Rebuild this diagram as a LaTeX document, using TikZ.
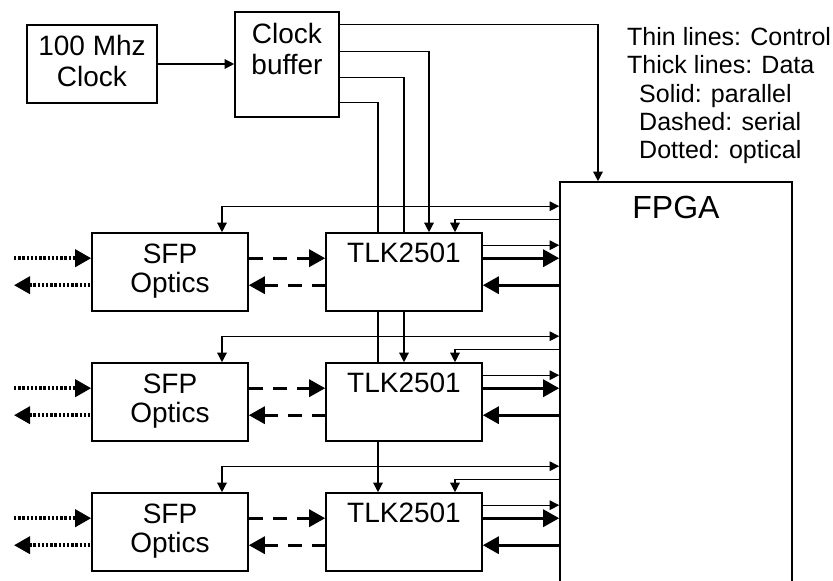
\documentclass[tikz,border=0pt]{standalone}
\usepackage{fontspec}
\setmainfont{Liberation Sans}
\usetikzlibrary{arrows.meta,backgrounds,calc}
\begin{document}
\begin{tikzpicture}[x=1pt,y=-1pt,
  box/.style={draw, line width=1.6pt, fill=white, inner sep=0pt},
  lbl/.style={font=\fontsize{28}{30}\selectfont, inner sep=0pt, anchor=base},
  leg/.style={font=\fontsize{25}{28}\selectfont, inner sep=0pt, anchor=base west},
  ctl/.style={line width=1.3pt, >={Triangle[length=9.5pt,width=9.5pt]}},
  data/.style={line width=3.2pt, >={Triangle[length=16pt,width=17pt]}},
  serial/.style={data, dash pattern=on 14pt off 10pt},
  optical/.style={data, line width=3.6pt, dash pattern=on 2.4pt off 1.8pt}]
\useasboundingbox (0,0) rectangle (833,581);
% top blocks
\node[box, minimum width=130pt, minimum height=78pt] (clk) at (92,64) {};
\node[lbl] (clkA) at (92,55) {100 Mhz};
\node[lbl] (clkB) at (92,86) {Clock};
\node[box, minimum width=104pt, minimum height=105pt] (buf) at (287,64.5) {};
\node[lbl] (bufA) at (287,43) {Clock};
\node[lbl] (bufB) at (287,74) {buffer};
\node[box, minimum width=232pt, minimum height=418pt] (fpga) at (676,391) {};
\node[lbl, font=\fontsize{32}{34}\selectfont] (fpgaT) at (676,218) {FPGA};
% legend
\node[leg] (lg1) at (627,45) {Thin lines: Control};
\node[leg] (lg2) at (627,73) {Thick lines: Data};
\node[leg] (lg3) at (639,102) {Solid: parallel};
\node[leg] (lg4) at (639,130) {Dashed: serial};
\node[leg] (lg5) at (639,158) {Dotted: optical};
\coordinate (L) at (14,0);
% rows
\foreach \i/\y in {1/272,2/402,3/532} {
  \node[box, minimum width=156pt, minimum height=78pt] (s\i) at (170,\y) {};
  \node[lbl] (sA\i) at (170,\y-9) {SFP};
  \node[lbl] (sB\i) at (170,\y+20) {Optics};
  \node[box, minimum width=156pt, minimum height=78pt] (t\i) at (404,\y) {};
  \node[lbl] (tA\i) at (404,\y-10) {TLK2501};
  \coordinate (a\i) at ([yshift=26pt]t\i.north);
  \coordinate (b\i) at ([yshift=13pt]t\i.north);
  \coordinate (c\i) at ([yshift=-13pt]t\i.north east);
  \coordinate (d\i) at ([yshift=-26pt]t\i.north east);
  \coordinate (e\i) at ([yshift=-53pt]t\i.north east);
  \draw[ctl,<->] ([xshift=52pt]s\i.north) |- (a\i -| fpga.west);
  \draw[ctl,->] (b\i -| fpga.west) -| ([xshift=51pt]t\i.north);
  \draw[ctl,->] (c\i) -- (c\i -| fpga.west);
  \draw[data,->] (d\i) -- (d\i -| fpga.west);
  \draw[data,<-] (e\i) -- (e\i -| fpga.west);
  \draw[serial,->] (d\i -| s\i.east) -- (d\i -| t\i.west);
  \draw[serial,<-] (e\i -| s\i.east) -- (e\i -| t\i.west);
  \draw[optical,->] (d\i -| L) -- (d\i -| s\i.west);
  \draw[optical,<-] (e\i -| L) -- (e\i -| s\i.west);
}
% clock distribution
\draw[ctl,->] (clk.east) -- (clk.east -| buf.west);
\begin{scope}[on background layer]
\draw[ctl,->] ([yshift=-13pt]buf.north east) -| ([xshift=-78pt]fpga.north);
\draw[ctl,->] ([yshift=-40pt]buf.north east) -| ([xshift=25pt]t1.north);
\draw[ctl,->] ([yshift=-66pt]buf.north east) -| (t2.north);
\draw[ctl,->] ([yshift=-91pt]buf.north east) -| ([xshift=-26pt]t3.north);
\end{scope}
\end{tikzpicture}
\end{document}
